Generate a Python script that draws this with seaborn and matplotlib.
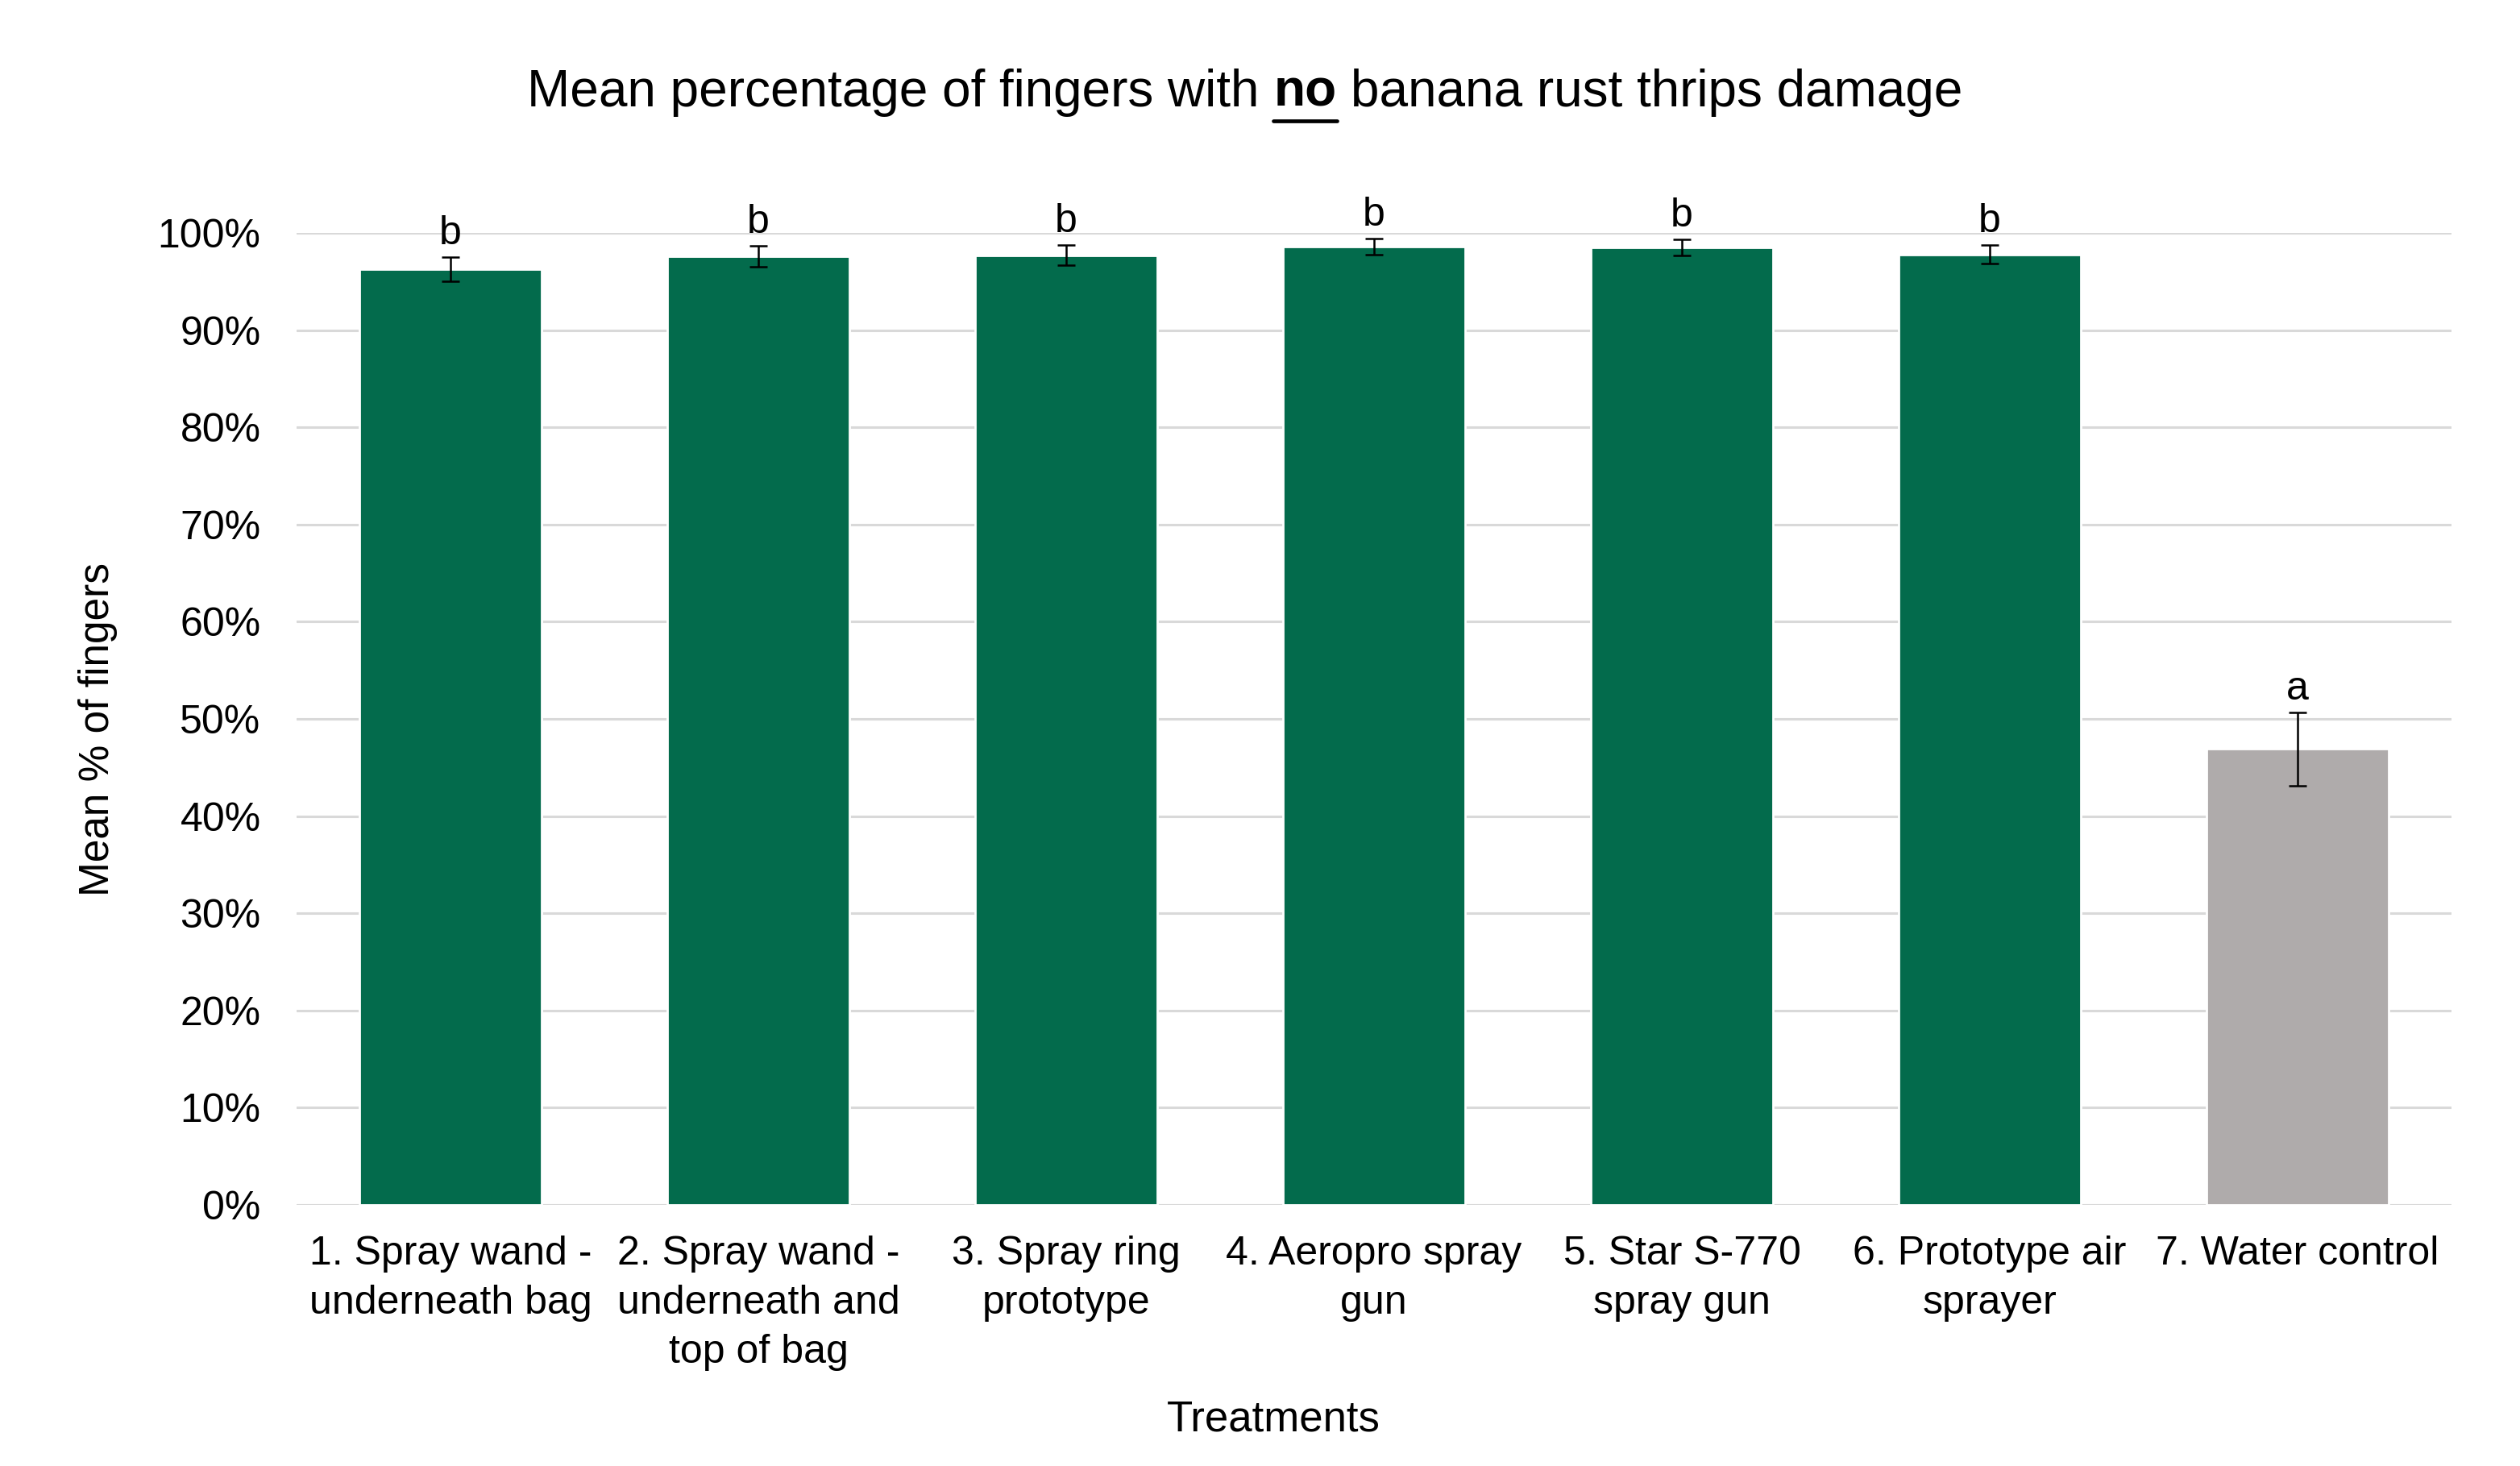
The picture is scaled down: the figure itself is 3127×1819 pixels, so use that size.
import matplotlib
matplotlib.use("Agg")
import matplotlib.pyplot as plt
from matplotlib.lines import Line2D
import seaborn as sns
import pandas as pd

# ---- data ----
treatments = [
    "1. Spray wand -\nunderneath bag",
    "2. Spray wand -\nunderneath and\ntop of bag",
    "3. Spray ring\nprototype",
    "4. Aeropro spray\ngun",
    "5. Star S-770\nspray gun",
    "6. Prototype air\nsprayer",
    "7. Water control",
]
mean_pct = [96.3, 97.6, 97.7, 98.6, 98.5, 97.8, 46.9]
se_pct = [1.24, 1.07, 1.02, 0.83, 0.83, 0.94, 3.76]
letters = ["b", "b", "b", "b", "b", "b", "a"]
bar_colors = ["#036B4C"] * 6 + ["#AFABAB"]

sns.set_theme(style="white")
plt.rcParams["font.family"] = ["Liberation Sans", "DejaVu Sans"]

W, H, DPI = 3127, 1819, 200
fig = plt.figure(figsize=(W / DPI, H / DPI), dpi=DPI)
ax = fig.add_axes([368 / W, 1 - 1495 / H, (3042 - 368) / W, (1495 - 289) / H])

df = pd.DataFrame({"Treatment": treatments, "Mean": mean_pct})
sns.barplot(data=df, x="Treatment", y="Mean", hue="Treatment",
            palette=bar_colors, saturation=1, width=0.594, legend=False,
            errorbar=None, ax=ax, zorder=2)

eb = ax.errorbar(x=list(range(len(treatments))), y=mean_pct, yerr=se_pct,
                 fmt="none", ecolor="black", elinewidth=0.9, capsize=4,
                 capthick=0.9, zorder=3)
for ch in eb.get_children():
    ch.set_clip_on(False)

for i, (m, s, l) in enumerate(zip(mean_pct, se_pct, letters)):
    ax.annotate(l, xy=(i, m + s), xytext=(0, 5.8), textcoords="offset points",
                ha="center", va="baseline", fontsize=18, color="black",
                annotation_clip=False)

ax.set_ylim(0, 100)
ax.set_xlim(-0.5, len(treatments) - 0.5)
ax.set_yticks(range(0, 101, 10))
ax.set_yticklabels([f"{v}%" for v in range(0, 101, 10)])
ax.yaxis.grid(True, color="#D9D9D9", linewidth=1.1, zorder=0)
ax.xaxis.grid(False)
ax.set_axisbelow(True)
for sp in ax.spines.values():
    sp.set_visible(False)
ax.tick_params(axis="y", length=0, pad=16, labelsize=18, labelcolor="black")
ax.tick_params(axis="x", length=0, pad=13.5, labelsize=18, labelcolor="black")
for lab in ax.get_xticklabels():
    lab.set_linespacing(1.42)
ax.set_xlabel("")
ax.set_ylabel("")

# axis titles
fig.text(1580 / W, 1 - 1775 / H, "Treatments", ha="center", va="baseline",
         fontsize=19, color="black")
fig.text(121 / W, 1 - 905 / H, "Mean % of fingers", ha="center", va="center",
         rotation=90, fontsize=18.5, color="black")

# title with bold underlined "no"
fs = 23
base_y = 1 - 132 / H
t1 = fig.text(0, base_y, "Mean percentage of fingers with", fontsize=fs,
              va="baseline", ha="left", color="black")
t2 = fig.text(0, base_y, "no", fontsize=fs, weight="bold", va="baseline",
              ha="left", color="black")
t3 = fig.text(0, base_y, "banana rust thrips damage", fontsize=fs,
              va="baseline", ha="left", color="black")
fig.canvas.draw()
r = fig.canvas.get_renderer()
w1 = t1.get_window_extent(r).width
w2 = t2.get_window_extent(r).width
w3 = t3.get_window_extent(r).width
space = 0.278 * fs * DPI / 72
total = w1 + space + w2 + space + w3
x0 = 1545 - total / 2
t1.set_x(x0 / W)
t2.set_x((x0 + w1 + space) / W)
t3.set_x((x0 + w1 + space + w2 + space) / W)
ux0 = (x0 + w1 + space) / W
ux1 = (x0 + w1 + space + w2) / W
uy = 1 - 150 / H
fig.add_artist(Line2D([ux0, ux1], [uy, uy], transform=fig.transFigure,
                      color="black", linewidth=1.7))

fig.savefig("out.png", dpi=DPI, facecolor="white")
